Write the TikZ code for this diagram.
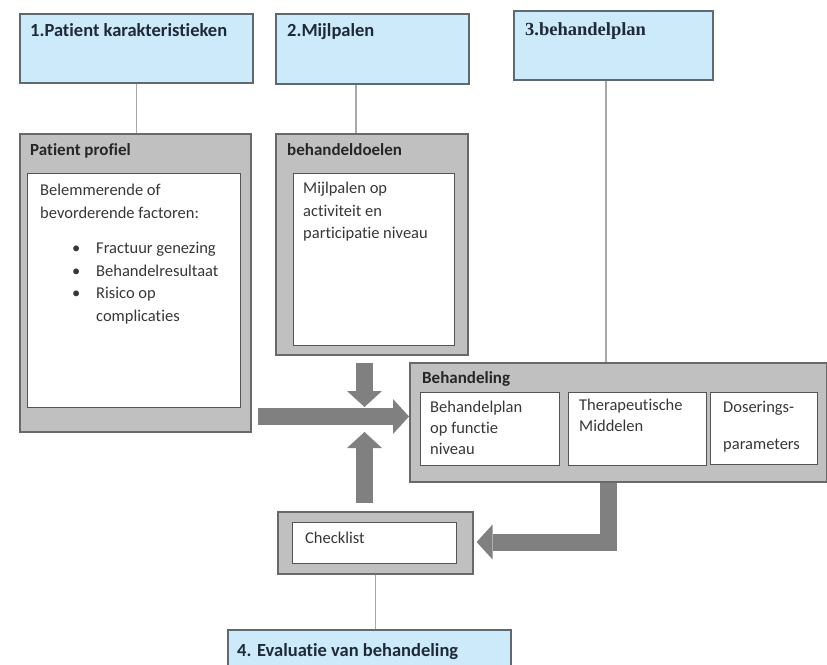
\documentclass[tikz,border=0pt]{standalone}
\usepackage{fontspec}
\setmainfont{Carlito}[RawFeature={-liga;-clig;-calt;-dlig}]
\newfontfamily\kopserif{Liberation Serif}
\usetikzlibrary{arrows.meta,calc}
\definecolor{kopblauw}{RGB}{205,234,250}
\definecolor{koprand}{RGB}{95,105,112}
\definecolor{paneelgrijs}{RGB}{192,192,192}
\definecolor{paneelrand}{RGB}{105,105,105}
\definecolor{pijlgrijs}{RGB}{128,128,128}
\definecolor{lijngrijs}{RGB}{168,168,168}
\definecolor{tekstgrijs}{RGB}{55,55,55}
\definecolor{koptekst}{RGB}{30,42,56}
\newcommand{\regels}[1]{\begin{tabular}{@{}l@{}}#1\end{tabular}}
\tikzset{
    header/.style = {draw=koprand, fill=kopblauw, line width=1.6pt, inner sep=0pt, anchor=north west},
    panel/.style = {draw=paneelrand, fill=paneelgrijs, line width=1.6pt, inner sep=0pt, anchor=north west},
    innerbox/.style = {draw=paneelrand!80!black, fill=white, line width=1.4pt, inner sep=0pt, anchor=north west},
    kop/.style = {anchor=base west, inner sep=0pt, text=koptekst, font=\fontsize{18.5}{22}\selectfont\bfseries},
    titel/.style = {anchor=base west, inner sep=0pt, text=black!85, font=\fontsize{17}{20}\selectfont\bfseries},
    txt/.style = {anchor=north west, inner sep=0pt, text=tekstgrijs, font=\fontsize{16.5}{22.5}\selectfont},
    smalltxt/.style = {txt, font=\fontsize{16.5}{21}\selectfont},
    link/.style = {draw=lijngrijs, line width=1.5pt},
    bigarrow/.style = {draw=pijlgrijs, line width=17pt, line join=miter,
        -{Triangle[length=16pt, width=35pt, line width=0pt]}}
}

\begin{document}
\begin{tikzpicture}[x=1pt, y=-1pt]
\useasboundingbox (0,0) rectangle (827,664);

\node[header, minimum width=233pt, minimum height=69pt] (patient) at (19,13) {};
\node[header, minimum width=193pt, minimum height=70pt] (mijlpalen) at (275,13) {};
\node[header, minimum width=199pt, minimum height=69pt] (plan) at (513,10) {};
\node[header, minimum width=283pt, minimum height=60pt] (evaluatie) at (227,629) {};
\node[kop] at ($(patient.north west)+(11,23)$) {1.Patient karakteristieken};
\node[kop] at ($(mijlpalen.north west)+(12,23)$) {2.Mijlpalen};
\node[kop, font=\kopserif\fontsize{18.5}{22}\selectfont\bfseries] at ($(plan.north west)+(12,25)$) {3.behandelplan};
\node[kop] at ($(evaluatie.north west)+(10,27)$) {4. Evaluatie van behandeling};

\node[panel, minimum width=231pt, minimum height=298pt] (profiel) at (19,133) {};
\node[panel, minimum width=192pt, minimum height=221pt] (doelen) at (275,133) {};
\node[panel, minimum width=417pt, minimum height=119pt] (behandeling) at (409,362) {};
\node[panel, minimum width=195pt, minimum height=62pt] (checklist) at (277,511) {};
\node[titel] at ($(profiel.north west)+(11,22)$) {Patient profiel};
\node[titel] at ($(doelen.north west)+(12,22)$) {behandeldoelen};
\node[titel] at ($(behandeling.north west)+(13,21)$) {Behandeling};

\node[innerbox, minimum width=213pt, minimum height=234pt] (factoren) at (27,173) {};
\node[innerbox, minimum width=161pt, minimum height=172pt] (mijlvak) at (293,173) {};
\node[innerbox, minimum width=139pt, minimum height=73pt] (functie) at (420,392) {};
\node[innerbox, minimum width=138pt, minimum height=73pt] (middelen) at (568,392) {};
\node[innerbox, minimum width=107pt, minimum height=72pt] (dosering) at (710,392) {};
\node[innerbox, minimum width=164pt, minimum height=41pt] (checkvak) at (292,522) {};

\node[txt] (factorentxt) at ($(factoren.north west)+(13,7)$) {\regels{Belemmerende of\\ bevorderende factoren:}};
\node[txt] (opsomming) at ($(factoren.north west)+(45,65)$) {\begin{tabular}{@{}p{24pt}@{}l@{}}
    • & Fractuur genezing\\ • & Behandelresultaat\\ • & Risico op\\ & complicaties\end{tabular}};
\node[txt] (mijltxt) at ($(mijlvak.north west)+(10,5)$) {\regels{Mijlpalen op\\ activiteit en\\ participatie niveau}};
\node[smalltxt] (functietxt) at ($(functie.north west)+(10,6)$) {\regels{Behandelplan\\ op functie\\ niveau}};
\node[smalltxt] (middelentxt) at ($(middelen.north west)+(11,4)$) {\regels{Therapeutische\\ Middelen}};
\node[smalltxt] (doseringtxt) at ($(dosering.north west)+(13,6)$) {\regels{Doserings-\\[16pt] parameters}};
\node[txt] (checktxt) at ($(checkvak.north west)+(13,6)$) {\regels{Checklist}};

\coordinate (mijllijn) at (356,0);
\coordinate (planlijn) at (606,0);
\draw[link] (patient.south) -- (patient.south |- profiel.north);
\draw[link] (mijlpalen.south -| mijllijn) -- (doelen.north -| mijllijn);
\draw[link] (plan.south -| planlijn) -- (behandeling.north -| planlijn);
\draw[link] (checklist.south) -- (checklist.south |- evaluatie.north);

\coordinate (kruis) at (364.5,416.5);
\coordinate (hoek) at (608,542);
\draw[bigarrow] ($(doelen.south -| kruis)+(0,7)$) -- ($(kruis)+(0,-9.5)$);
\draw[bigarrow] ($(profiel.east |- kruis)+(6,0)$) -- (behandeling.west |- kruis);
\draw[bigarrow] ($(checklist.north -| kruis)+(0,-8)$) -- ($(kruis)+(0,15.5)$);
\draw[bigarrow] (behandeling.south -| hoek) -- (hoek) -- ($(checklist.east |- hoek)+(3,0)$);
\end{tikzpicture}
\end{document}
